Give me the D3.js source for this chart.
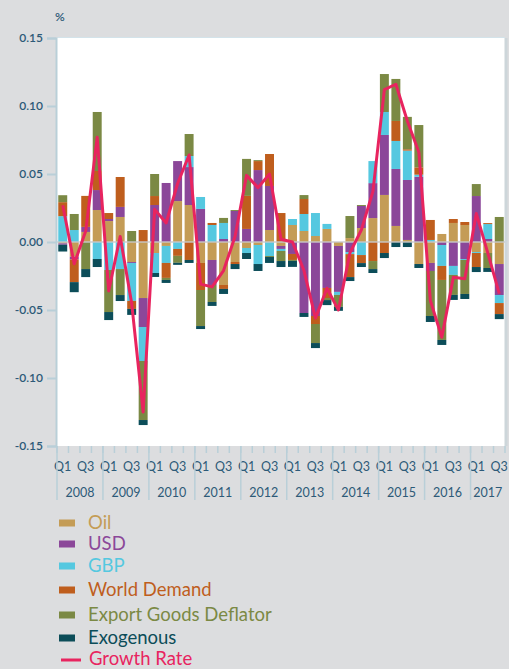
<html>
<head>
<meta charset="utf-8">
<script src="https://d3js.org/d3.v7.min.js"></script>
<style>
body { margin: 0; background: #dcdddf; }
svg { display: block; font-family: Lato, "Open Sans", sans-serif; }
.tick text { fill: #2d5a78; }
</style>
</head>
<body>
<svg id="chart" width="509" height="669"></svg>
<script>
// quarters 2008 Q1 .. 2017 Q3
const years = ["2008","2009","2010","2011","2012","2013","2014","2015","2016","2017"];
const quarters = [];
years.forEach(y => ["Q1","Q2","Q3","Q4"].forEach(q => quarters.push(y + " " + q)));
quarters.splice(39);

const yTicks = [-0.15, -0.10, -0.05, 0.00, 0.05, 0.10, 0.15];

// contributions
const oil = [-0.001,-0.0108,0.0074,0.0235,0.0154,0.0184,-0.0147,-0.0412,-0.0081,-0.0029,
  0.0301,0.0272,-0.0154,-0.0132,-0.0316,-0.0147,-0.0044,-0.0022,0.0088,-0.0029,
  0.0125,0.0081,0.0044,0.0096,-0.0029,0.0029,0.0103,0.0176,0.0346,0.0118,
  0.0015,-0.0162,-0.0154,0.0059,0.014,0.0125,-0.0074,-0.0081,-0.0162];
const usd = [-0.001,-0.002,0.0037,0.0147,0.0015,0.0074,-0.0007,-0.0213,0.0272,0.0434,
  0.0294,0.0279,0.0243,-0.0184,0.0022,0.0228,0.0096,0.0529,0.0324,-0.0022,
  -0.0088,-0.0522,-0.0544,-0.0338,-0.0338,-0.0074,0.0162,0.0257,0.0441,0.0419,
  0.0441,0.048,-0.0059,-0.0022,-0.0176,-0.0125,0.0338,0.0022,-0.0228];
const gbp = [0.019,0.0088,0,-0.0125,-0.0206,-0.0199,-0.0279,-0.025,-0.0147,-0.0125,
  -0.0051,0.0081,0.0088,0.0125,0.0118,0,-0.0037,-0.014,-0.0103,-0.0015,
  0.0044,0.0125,0.0169,0.0037,-0.0022,-0.0015,-0.0096,0.0162,0.0169,0.0206,
  0.0216,0.0015,0.0015,-0.0154,-0.0066,-0.0007,-0.0007,0.011,-0.0059];
const worldDemand = [0.0103,-0.0167,0.0228,0.014,0.0044,0.022,-0.0059,0.0088,0.0066,-0.011,
  -0.0051,-0.0132,-0.0199,0.0015,-0.0029,-0.0015,0.0243,0.0066,0.0235,0.0213,
  -0.0044,0.011,-0.0059,-0.0074,0,-0.0169,-0.0059,-0.014,-0.0081,0.0147,
  0.001,0.0054,0.0147,-0.0103,0.0029,0.0022,-0.0103,0.0007,-0.0081];
const exportDeflator = [0.0051,0.0118,-0.0199,0.0434,-0.0309,-0.0191,0.0081,-0.0434,0.0162,-0.0015,
  -0.0051,0.0162,-0.0265,-0.0125,0.0037,0.0007,0.0272,0.0007,-0.0007,-0.0074,
  -0.0007,0.0029,-0.014,-0.0015,-0.0088,0.0162,0.0007,-0.0059,0.0279,0.0309,
  0.0238,0.0311,-0.0331,-0.0441,-0.0147,-0.025,0.0088,-0.011,0.0184];
const exogenous = [-0.005,-0.0074,-0.0059,-0.0059,-0.0059,-0.0044,-0.0044,-0.0037,-0.0029,-0.0022,
  -0.0015,-0.0022,-0.0022,-0.0029,-0.0037,-0.0037,-0.0044,-0.0051,-0.0044,-0.0044,
  -0.0044,-0.0029,-0.0037,-0.0037,-0.0029,-0.0029,-0.0029,-0.0029,-0.0037,-0.0037,
  -0.0037,-0.0029,-0.0044,-0.0037,-0.0037,-0.0037,-0.0037,-0.0029,-0.0037];
const growthRate = [0.027,-0.016,0.008,0.077,-0.036,0.004,-0.045,-0.125,0.024,0.014,
  0.043,0.064,-0.031,-0.033,-0.021,0.004,0.049,0.040,0.050,0.002,
  0.000,-0.021,-0.056,-0.034,-0.050,-0.008,0.009,0.037,0.112,0.116,
  0.089,0.066,-0.043,-0.070,-0.026,-0.027,0.021,-0.008,-0.038];

const seriesNames = ["Oil","USD","GBP","World Demand","Export Goods Deflator","Exogenous"];
const seriesValues = [oil, usd, gbp, worldDemand, exportDeflator, exogenous];
const colors = ["#c49c56","#8b4799","#55c8e0","#bf5e1d","#7b8944","#0c4d59"];
const lineColor = "#e8245f";

const svg = d3.select("svg#chart");
const plot = {left: 57, right: 505, top: 38, bottom: 446};

// table for d3.stack
const table = quarters.map((q, i) => {
  const row = {q: q};
  seriesNames.forEach((s, k) => row[s] = seriesValues[k][i]);
  return row;
});

const x = d3.scaleBand().domain(quarters).range([plot.left, plot.right])
  .paddingInner(0.22).paddingOuter(0.11);
const y = d3.scaleLinear().domain([-0.15, 0.15]).range([plot.bottom, plot.top]);

// plot background
svg.append("rect").attr("x", plot.left).attr("y", plot.top)
  .attr("width", plot.right - plot.left).attr("height", plot.bottom - plot.top)
  .attr("fill", "white");
svg.append("line").attr("x1", plot.right + 1).attr("x2", plot.right + 1)
  .attr("y1", plot.top).attr("y2", plot.bottom)
  .attr("stroke", "#cdd6da").attr("stroke-width", 3);
svg.append("line").attr("x1", plot.left).attr("x2", plot.right)
  .attr("y1", plot.top - 0.5).attr("y2", plot.top - 0.5)
  .attr("stroke", "#d3e3ea").attr("stroke-width", 1);

// bars
const stack = d3.stack().keys(seriesNames).offset(d3.stackOffsetDiverging);
const layers = stack(table);

svg.append("g").selectAll("g").data(layers).join("g")
  .attr("fill", (d, k) => colors[k])
  .selectAll("rect").data(d => d).join("rect")
  .attr("x", d => x(d.data.q))
  .attr("width", x.bandwidth())
  .attr("y", d => y(Math.max(d[0], d[1])))
  .attr("height", d => Math.abs(y(d[0]) - y(d[1])));

// zero line
svg.append("line").attr("x1", plot.left).attr("x2", plot.right)
  .attr("y1", y(0)).attr("y2", y(0))
  .attr("stroke", "#c8cacc").attr("stroke-width", 1.5).attr("opacity", 0.9);

// growth rate line
const line = d3.line().x((d, i) => x(quarters[i]) + x.bandwidth() / 2).y(d => y(d));
svg.append("path").datum(growthRate)
  .attr("fill", "none").attr("stroke", lineColor).attr("stroke-width", 3)
  .attr("stroke-linejoin", "round")
  .attr("d", line);

// y axis
const fmt = d => d3.format(".2f")(d).replace("\u2212", "-");
const yAxis = d3.axisLeft(y).tickValues(yTicks).tickFormat(fmt).tickSize(9).tickPadding(4);
const ya = svg.append("g").attr("transform", `translate(${plot.left - 1},0)`).call(yAxis);
ya.selectAll("line").attr("stroke", "#b9cfd8").attr("stroke-width", 2);
ya.select(".domain").attr("stroke", "#b9cfd8").attr("stroke-width", 2);
ya.selectAll("text").attr("font-size", 12).attr("font-weight", 600).attr("font-family", "Lato");

svg.append("text").attr("x", 55).attr("y", 21).attr("fill", "#2d5a78")
  .attr("font-size", 12).attr("font-weight", 600).text("%");

// x axis: quarter ticks and labels
const xa = svg.append("g");
const step = x.step();
const bounds = d3.range(quarters.length + 1).map(i => plot.left + i * step);
xa.selectAll("line.q").data(bounds).join("line").attr("class", "q")
  .attr("x1", d => d).attr("x2", d => d)
  .attr("y1", plot.bottom).attr("y2", plot.bottom + 7)
  .attr("stroke", "#b9cfd8").attr("stroke-width", 1.5);
xa.selectAll("text.q").data(quarters.filter((q, i) => i % 2 === 0)).join("text").attr("class", "q")
  .attr("x", d => x(d) + x.bandwidth() / 2)
  .attr("y", 471)
  .attr("text-anchor", "middle")
  .attr("font-size", 12.5)
  .attr("fill", "#2d5a78")
  .text(d => d.split(" ")[1]);

// years row
const yearStarts = years.map((yr, k) => plot.left + k * 4 * step);
xa.selectAll("line.yr").data(yearStarts).join("line").attr("class", "yr")
  .attr("x1", d => d).attr("x2", d => d)
  .attr("y1", plot.bottom).attr("y2", 500)
  .attr("stroke", "#b9cfd8").attr("stroke-width", 1.5);
xa.selectAll("text.yr").data(years).join("text").attr("class", "yr")
  .attr("x", (d, k) => {
    const n = Math.min(4, quarters.length - k * 4);
    return plot.left + (k * 4 + n / 2) * step;
  })
  .attr("y", 497)
  .attr("text-anchor", "middle")
  .attr("font-size", 12.5)
  .attr("fill", "#2d5a78")
  .text(d => d);

// legend
const legendY = [523, 544, 566, 590, 615, 638];
const legend = svg.append("g");
seriesNames.forEach((s, k) => {
  legend.append("rect").attr("x", 59).attr("y", legendY[k] - 3.5).attr("width", 16).attr("height", 7)
    .attr("fill", colors[k]);
  legend.append("text").attr("x", 88).attr("y", legendY[k]).attr("dy", "0.35em")
    .attr("font-size", 18.5).attr("fill", colors[k]).text(s);
});
legend.append("line").attr("x1", 61).attr("x2", 81).attr("y1", 660).attr("y2", 660)
  .attr("stroke", lineColor).attr("stroke-width", 3);
legend.append("text").attr("x", 89).attr("y", 659).attr("dy", "0.35em")
  .attr("font-size", 18.5).attr("fill", lineColor).text("Growth Rate");
</script>
</body>
</html>
